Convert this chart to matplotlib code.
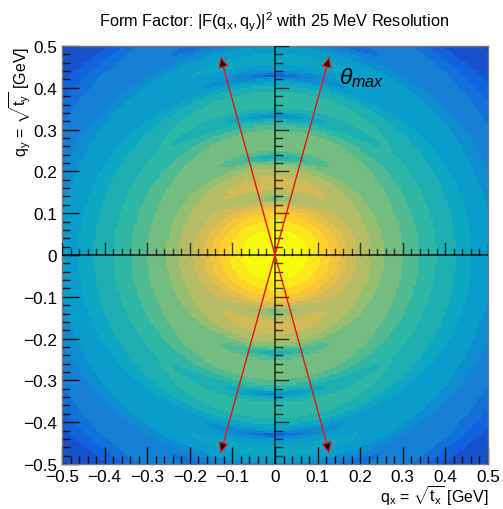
import numpy as np
import matplotlib
matplotlib.use("Agg")
import matplotlib.pyplot as plt
from matplotlib.colors import LinearSegmentedColormap, ListedColormap, BoundaryNorm
from matplotlib.ticker import MultipleLocator, FixedLocator, FixedFormatter

plt.rcParams["font.family"] = ["Liberation Sans", "DejaVu Sans"]
plt.rcParams["mathtext.fontset"] = "custom"
plt.rcParams["mathtext.rm"] = "Liberation Sans"
plt.rcParams["mathtext.it"] = "Liberation Sans:italic"
plt.rcParams["mathtext.bf"] = "Liberation Sans:bold"

# ---- physics inputs (Helm form factor) ------------------------------------
HBARC = 0.1973          # GeV fm
RADIUS_FM = 6.45        # hard-sphere radius of the nucleus
SKIN_FM = 0.75          # Gaussian surface thickness folded with the sphere
SMEAR_QX_GEV = 0.035    # effective Gaussian smearing along q_x

# ---- histogram / display settings ----------------------------------------
Q_MIN, Q_MAX = -0.5, 0.5
N_BINS = 200
N_CONTOURS = 20
LOGZ_MIN = -8.0
LOGZ_MAX = 0.0

TICK_VALUES = [-0.5, -0.4, -0.3, -0.2, -0.1, 0.0, 0.1, 0.2, 0.3, 0.4, 0.5]
TICK_LABELS = ["\u22120.5", "\u22120.4", "\u22120.3", "\u22120.2", "\u22120.1", "0",
               "0.1", "0.2", "0.3", "0.4", "0.5"]

ARROW_TIP_X = [-0.128, 0.128, -0.128, 0.128]
ARROW_TIP_Y = [0.475, 0.475, -0.475, -0.475]

# ROOT kBird palette
BIRD_R = [0.2082, 0.0592, 0.0780, 0.0232, 0.1802, 0.5301, 0.8186, 0.9956, 0.9764]
BIRD_G = [0.1664, 0.3599, 0.5041, 0.6419, 0.7178, 0.7492, 0.7328, 0.7862, 0.9832]
BIRD_B = [0.5293, 0.8684, 0.8385, 0.7914, 0.6425, 0.4662, 0.3499, 0.1968, 0.0539]


def form_factor_sq(q):
    """|F(q)|^2 of a hard sphere folded with a Gaussian surface (Helm)."""
    q = np.asarray(q)
    x = np.where(q < 1e-9, 1e-9, q) * RADIUS_FM / HBARC
    f = 3.0 * (np.sin(x) - x * np.cos(x)) / x**3
    f *= np.exp(-0.5 * (q * SKIN_FM / HBARC) ** 2)
    return f * f


# bin edges / centres of the 2D histogram
edges = np.linspace(Q_MIN, Q_MAX, N_BINS + 1)
centres = 0.5 * (edges[:-1] + edges[1:])

# fine, extended q_x sampling for the smearing
step = (Q_MAX - Q_MIN) / N_BINS / 2.0
pad = 5 * SMEAR_QX_GEV
qx_fine = np.arange(Q_MIN - pad, Q_MAX + pad + step / 2, step)

QXf, QYf = np.meshgrid(qx_fine, centres)
raw = form_factor_sq(np.hypot(QXf, QYf))

weights = np.exp(-0.5 * ((centres[:, None] - qx_fine[None, :]) / SMEAR_QX_GEV) ** 2)
weights /= weights.sum(axis=1, keepdims=True)
smeared = raw @ weights.T           # rows: q_y, columns: q_x
smeared /= smeared.max()
logz = np.log10(np.clip(smeared, 10 ** LOGZ_MIN, None))

# discrete colour bands like ROOT's contour colouring
bird = LinearSegmentedColormap.from_list(
    "bird", list(zip(np.linspace(0, 1, 9), zip(BIRD_R, BIRD_G, BIRD_B))), N=255)
band_colors = [bird(int((k + 0.99) * 255 / N_CONTOURS) / 254.0) for k in range(N_CONTOURS)]
cmap = ListedColormap(band_colors)
levels = np.linspace(LOGZ_MIN, LOGZ_MAX, N_CONTOURS + 1)
norm = BoundaryNorm(levels, N_CONTOURS, clip=True)

fig = plt.figure(figsize=(5.03, 5.10), dpi=100)
ax_l, ax_b, ax_w, ax_h = 62 / 503, 45 / 510, 426 / 503, 418 / 510
ax = fig.add_axes([ax_l, ax_b, ax_w, ax_h])
ax.pcolormesh(edges, edges, logz, cmap=cmap, norm=norm, shading="flat", rasterized=True)
ax.set_xlim(Q_MIN, Q_MAX)
ax.set_ylim(Q_MIN, Q_MAX)

# frame axes
for side in ("top", "right", "left", "bottom"):
    ax.spines[side].set_color("#777777")
    ax.spines[side].set_linewidth(1.0)
for axis in (ax.xaxis, ax.yaxis):
    axis.set_major_locator(FixedLocator(TICK_VALUES))
    axis.set_major_formatter(FixedFormatter(TICK_LABELS))
    axis.set_minor_locator(MultipleLocator(0.02))
ax.tick_params(which="both", direction="in", top=False, right=False,
               color="#111111", labelsize=12.4, pad=3.5)
ax.tick_params(which="major", length=12, width=1.0)
ax.tick_params(which="minor", length=6, width=1.0)

# axes drawn through the origin
ax_px_w, ax_px_h = 426.0, 418.0
major_x = 12.5 / ax_px_h
minor_x = 6.5 / ax_px_h
major_y = 12.5 / ax_px_w
minor_y = 6.5 / ax_px_w
fine_ticks = np.round(np.arange(Q_MIN, Q_MAX + 1e-9, 0.02), 3)
axis_col = (0, 0, 0, 0.72)
ax.axhline(0.0, color=axis_col, lw=1.3, zorder=3)
ax.axvline(0.0, color=axis_col, lw=1.2, zorder=3)
for t in fine_ticks:
    is_major = np.isclose(t * 10, np.round(t * 10))
    if np.isclose(t, 0.0):
        continue
    ax.plot([t, t], [0, major_x if is_major else minor_x], color=axis_col, lw=1.0, zorder=3)
    ax.plot([0, major_y if is_major else minor_y], [t, t], color=axis_col, lw=1.0, zorder=3)

# acceptance arrows from the origin
for tx, ty in zip(ARROW_TIP_X, ARROW_TIP_Y):
    ax.annotate("", xy=(tx, ty), xytext=(0.0, 0.0),
                arrowprops=dict(arrowstyle="-|>,head_length=0.65,head_width=0.3",
                                ec="#ee1111", fc="black", lw=1.0,
                                shrinkA=0, shrinkB=0), zorder=4)

fig.text(339 / 503, 1 - 84 / 510, r"$\theta_{max}$", fontsize=16.5,
         ha="left", va="baseline", zorder=5)

fig.text(274.5 / 503, 1 - 27 / 510,
         r"Form Factor: $|\mathrm{F}(\mathrm{q}_{\mathrm{x}},\mathrm{q}_{\mathrm{y}})|^{2}$ with 25 MeV Resolution",
         ha="center", va="baseline", fontsize=11.8)
fig.text(488 / 503, 1 - 503 / 510,
         r"$\mathrm{q}_{\mathrm{x}}$ = $\sqrt{\mathrm{t}_{\mathrm{x}}}$ [GeV]",
         ha="right", va="baseline", fontsize=11.5)
fig.text(26 / 503, 1 - 47 / 510,
         r"$\mathrm{q}_{\mathrm{y}}$ = $\sqrt{\mathrm{t}_{\mathrm{y}}}$ [GeV]",
         ha="right", va="baseline", rotation=90, rotation_mode="anchor", fontsize=11.5)

fig.savefig("out.png", dpi=100)
